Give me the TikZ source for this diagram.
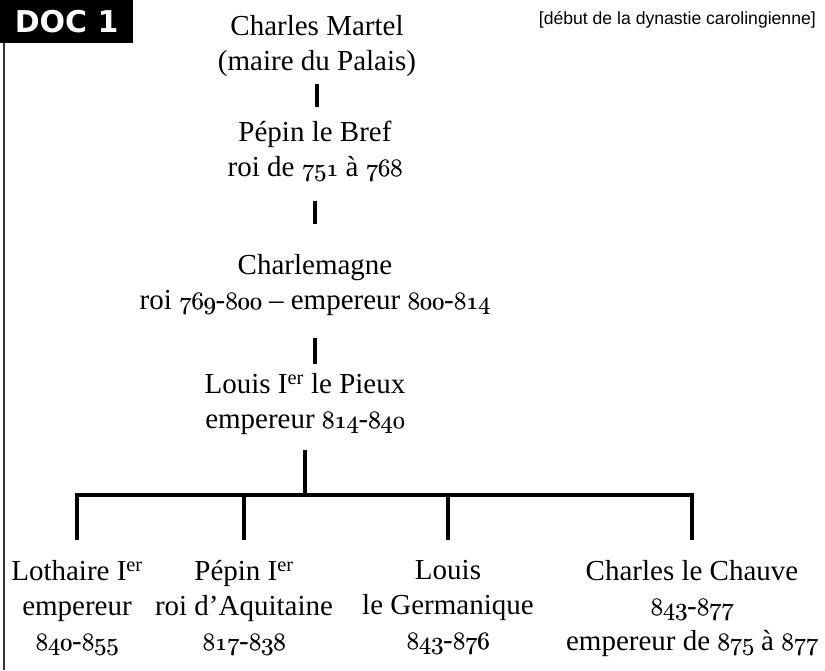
\documentclass[tikz,border=0pt]{standalone}
\usepackage{fontspec}
\newfontfamily\serif{Liberation Serif}[Ligatures=TeX]
\newfontfamily\capfont{Liberation Sans}
\newfontfamily\docfont{DejaVu Sans}
\newcommand\osf{\fontencoding{OML}\fontfamily{lmm}\fontseries{b}\fontshape{it}\selectfont}
\newcommand\osn[1]{{\osf\rlap{\kern0.6pt #1}#1}}
\newcommand\er{\textsuperscript{er}}
\begin{document}
\begin{tikzpicture}[x=1pt,y=-1pt,
  person/.style={font=\serif\fontsize{29}{35}\selectfont, align=center, inner sep=0pt, anchor=north,
    execute at begin node=\strut, execute at end node=\strut},
  bar/.style={line width=3.5pt, line cap=butt}]
\useasboundingbox (0,0) rectangle (825,670);
\fill[white] (0,0) rectangle (825,670);
% header
\node[fill=black, text=white, minimum width=133pt, minimum height=43pt, anchor=north west, inner sep=0pt,
  font=\docfont\bfseries\fontsize{30}{30}\selectfont] (doc) at (0,0) {DOC 1};
\node[anchor=east, inner sep=0pt, font=\capfont\fontsize{17.6}{20}\selectfont] (cap) at (816,20)
  {[début de la dynastie carolingienne]};
\coordinate (fb) at (4,670);
\draw[line width=1.5pt, black!80] (doc.south west -| fb) -- (fb);
% persons
\node[person] (cm) at (317,15.5) {Charles Martel\\(maire du Palais)};
\node[person] (pb) at (315,120.5) {Pépin le Bref\\roi de \osn{751} à \osn{768}};
\node[person] (ch) at (315,254.5) {Charlemagne\\roi \osn{769}-\osn{800} – empereur \osn{800}-\osn{814}};
\node[person] (lp) at (305,373.5) {Louis I\er{} le Pieux\\empereur \osn{814}-\osn{840}};
\node[person] (lo) at (77,560.5) {Lothaire I\er\\empereur\\\osn{840}-\osn{855}};
\node[person] (pi) at (244,560.5) {Pépin I\er\\roi d’Aquitaine\\\osn{817}-\osn{838}};
\node[person] (lg) at (448,560.5) {Louis\\le Germanique\\\osn{843}-\osn{876}};
\node[person] (cc) at (692,560.5) {Charles le Chauve\\\osn{843}-\osn{877}\\empereur de \osn{875} à \osn{877}};
% connectors
\draw[bar, shorten <=2.5pt, shorten >=13.5pt] (cm.south) -- (cm.south |- pb.north);
\draw[bar, shorten <=14.5pt, shorten >=30.5pt] (pb.south) -- (pb.south |- ch.north);
\draw[bar, shorten <=17.5pt, shorten >=9.5pt] (ch.south) -- (ch.south |- lp.north);
\coordinate (hy) at (0,495);
\draw[bar, shorten <=10.5pt] (lp.south) -- (lp.south |- hy);
\draw[bar, line cap=rect] (lo.north |- hy) -- (cc.north |- hy);
\foreach \k in {lo,pi,lg,cc}
  \draw[bar, shorten >=20.5pt] (\k.north |- hy) -- (\k.north);
\end{tikzpicture}
\end{document}
